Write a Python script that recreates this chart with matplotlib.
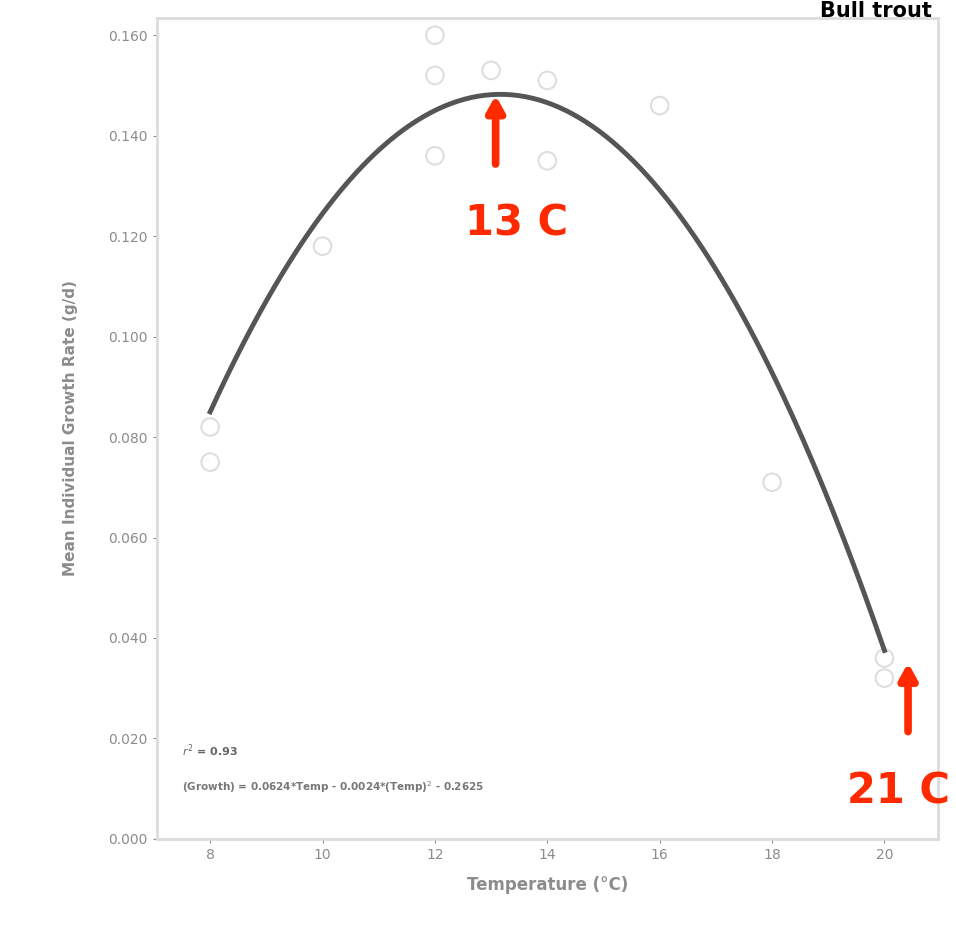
import numpy as np
import matplotlib
matplotlib.use("Agg")
import matplotlib.pyplot as plt

# fitted quadratic (growth vs temperature)
coef = [-0.00237, 0.0624, -0.2625]
temp_fit = np.linspace(8, 20, 200)

# observed growth (faint points)
temp_obs = [8, 8, 10, 12, 12, 12, 13, 14, 14, 16, 18, 20, 20]
growth_obs = [0.082, 0.075, 0.118, 0.160, 0.152, 0.136, 0.153, 0.151, 0.135, 0.146, 0.071, 0.036, 0.032]

xticks = [8, 10, 12, 14, 16, 18, 20]
yticks = [0.00, 0.02, 0.04, 0.06, 0.08, 0.10, 0.12, 0.14, 0.16]
ylabels = ["0.000", "0.020", "0.040", "0.060", "0.080", "0.100", "0.120", "0.140", "0.160"]

red = "#ff2a00"
grey = "#8c8c8c"

fig = plt.figure(figsize=(9.56, 9.30), dpi=100)
ax = fig.add_axes([0.164, 0.098, 0.817, 0.883])

ax.scatter(temp_obs, growth_obs, s=160, facecolors="none", edgecolors="#dedede", lw=1.5, zorder=1)
ax.plot(temp_fit, np.polyval(coef, temp_fit), color="#555555", lw=3.5, zorder=2)

ax.set_xlim(7.05, 20.95)
ax.set_ylim(0, 0.1635)
ax.set_xticks(xticks)
ax.set_yticks(yticks)
ax.set_yticklabels(ylabels)
ax.tick_params(colors=grey, labelsize=10, length=3)
for s in ax.spines.values():
    s.set_color("#dcdcdc")
    s.set_linewidth(2)

ax.set_xlabel("Temperature (°C)", color=grey, fontsize=12, fontweight="bold", labelpad=10)
ax.set_ylabel("Mean Individual Growth Rate (g/d)", color=grey, fontsize=11, fontweight="bold", labelpad=22)

ax.text(7.5, 0.0165, "$r^2$ = 0.93", color="#666666", fontsize=8, fontweight="bold")
ax.text(7.5, 0.0095, "(Growth) = 0.0624*Temp - 0.0024*(Temp)$^2$ - 0.2625",
        color="#777777", fontsize=7.5, fontweight="bold")

# red annotations
arrow = dict(arrowstyle="-|>,head_length=0.9,head_width=0.5", color=red, lw=5.5)
ax.annotate("", xy=(13.08, 0.1486), xytext=(13.08, 0.1338), arrowprops=arrow)
ax.text(13.45, 0.1225, "13 C", color=red, fontsize=30, fontweight="bold", ha="center", va="center")
ax.annotate("", xy=(20.42, 0.0356), xytext=(20.42, 0.0208), arrowprops=arrow)
ax.text(20.25, 0.0095, "21 C", color=red, fontsize=30, fontweight="bold", ha="center", va="center",
        clip_on=False)

fig.text(0.975, 0.999, "Bull trout", color="black", fontsize=15, fontweight="bold", ha="right", va="top")

fig.savefig("out.png", dpi=100)
